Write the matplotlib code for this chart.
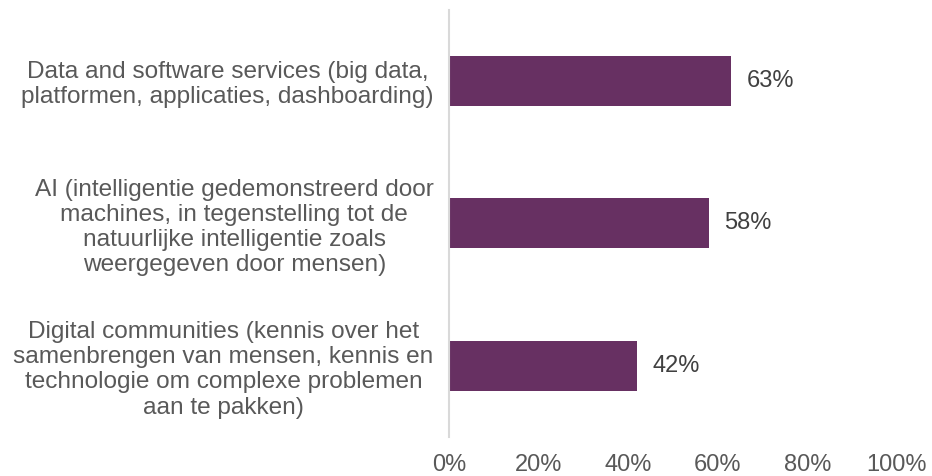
import numpy as np
import matplotlib.pyplot as plt

plt.rcParams['font.family'] = ['Liberation Sans', 'DejaVu Sans']

categories = [
    'Data and software services (big data,\nplatformen, applicaties, dashboarding)',
    'AI (intelligentie gedemonstreerd door\nmachines, in tegenstelling tot de\nnatuurlijke intelligentie zoals\nweergegeven door mensen)',
    'Digital communities (kennis over het\nsamenbrengen van mensen, kennis en\ntechnologie om complexe problemen\naan te pakken)',
]
values = [63, 58, 42]
xticks = [0, 20, 40, 60, 80, 100]

fig = plt.figure(figsize=(9.32, 4.76), dpi=100)
ax = fig.add_axes([449/932, 39/476, 448/932, 427.5/476])

y = np.arange(len(categories))
ax.barh(y, values, height=0.35, color='#673062')
for yi, v in zip(y, values):
    ax.text(v + 3.5, yi, f'{v}%', va='center', ha='left', fontsize=17, color='#404040')

ax.set_xlim(0, 100)
ax.set_ylim(len(categories) - 0.5, -0.5)
ax.set_yticks(y)
ax.set_yticklabels(categories, fontsize=17.6, color='#595959', multialignment='center',
                   linespacing=1.19)
ax.set_xticks(xticks)
ax.set_xticklabels([f'{t}%' for t in xticks], fontsize=17, color='#595959')
ax.tick_params(axis='both', length=0)
ax.tick_params(axis='y', pad=11)
ax.tick_params(axis='x', pad=12)

for s in ['top', 'right', 'bottom']:
    ax.spines[s].set_visible(False)
ax.spines['left'].set_color('#d9d9d9')
ax.spines['left'].set_linewidth(1.5)

fig.savefig('out.png', dpi=100)
